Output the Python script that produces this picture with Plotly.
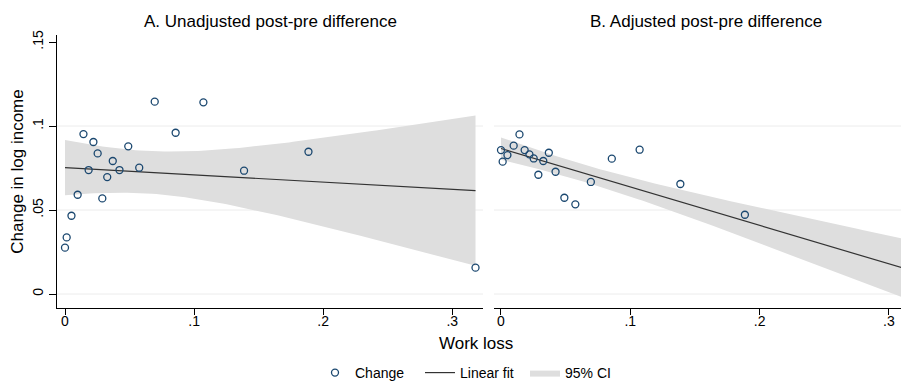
import numpy as np
import plotly.graph_objects as go

# ---- data ----
work_loss = [0.0, 0.0013, 0.005, 0.0098, 0.0143, 0.0183, 0.022, 0.0253, 0.0289, 0.0327,
             0.037, 0.0422, 0.049, 0.0575, 0.0695, 0.0857, 0.1072, 0.1387, 0.1886, 0.318]
change_unadjusted = [0.0276, 0.0337, 0.0466, 0.0591, 0.0952, 0.0738, 0.0905, 0.0837, 0.0569, 0.0696,
                     0.0792, 0.0738, 0.0879, 0.0752, 0.1145, 0.0960, 0.1141, 0.0734, 0.0847, 0.0157]
change_adjusted = [0.0857, 0.0788, 0.0827, 0.0883, 0.0950, 0.0857, 0.0831, 0.0807, 0.0710, 0.0792,
                   0.0841, 0.0728, 0.0573, 0.0534, 0.0667, 0.0806, 0.0859, 0.0655, 0.0472, 0.0024]

x_tick_vals = [0, 0.1, 0.2, 0.3]
x_tick_text = ["0", ".1", ".2", ".3"]
y_tick_vals = [0, 0.05, 0.1, 0.15]
y_tick_text = ["0", ".05", ".1", ".15"]
grid_y = [0, 0.05, 0.1]
panel_titles = ["A. Unadjusted post-pre difference", "B. Adjusted post-pre difference"]
T_CRIT = 2.101  # t(0.975, df = n-2 = 18)

FONT = "Liberation Sans, Arial, sans-serif"
MARKER_COLOR = "#1a476f"
LINE_COLOR = "#333333"
CI_COLOR = "#dedede"
GRID_COLOR = "#ececec"


def linfit_ci(x, y, npts=100):
    x = np.asarray(x, dtype=float)
    y = np.asarray(y, dtype=float)
    n = len(x)
    b, a = np.polyfit(x, y, 1)
    resid = y - (a + b * x)
    s = np.sqrt((resid ** 2).sum() / (n - 2))
    xbar = x.mean()
    sxx = ((x - xbar) ** 2).sum()
    grid = np.linspace(x.min(), x.max(), npts)
    fit = a + b * grid
    se = s * np.sqrt(1.0 / n + (grid - xbar) ** 2 / sxx)
    return grid, fit, fit - T_CRIT * se, fit + T_CRIT * se


fig = go.Figure()

for i, ys in enumerate([change_unadjusted, change_adjusted]):
    xa = "x" if i == 0 else "x2"
    ya = "y" if i == 0 else "y2"
    show = i == 0
    g, f, lo, hi = linfit_ci(work_loss, ys)
    fig.add_trace(go.Scatter(
        x=np.concatenate([g, g[::-1]]), y=np.concatenate([hi, lo[::-1]]),
        fill="toself", fillcolor=CI_COLOR, line=dict(width=0, color=CI_COLOR),
        mode="lines", name="95% CI", legendrank=3, showlegend=show,
        hoverinfo="skip", xaxis=xa, yaxis=ya))
    fig.add_trace(go.Scatter(
        x=g, y=f, mode="lines", line=dict(color=LINE_COLOR, width=1.2),
        name="Linear fit", legendrank=2, showlegend=show, xaxis=xa, yaxis=ya))
    fig.add_trace(go.Scatter(
        x=work_loss, y=ys, mode="markers",
        marker=dict(symbol="circle-open", size=7, color=MARKER_COLOR,
                    line=dict(width=1.3, color=MARKER_COLOR)),
        name="Change", legendrank=1, showlegend=show, xaxis=xa, yaxis=ya))

# page has an 8px body margin: the figure is drawn 8px right/down of the window corner
OFF = 8
W, H = 909 - OFF, 381 - OFF


def px_x(p):
    return (p - OFF) / W


def px_y(p):
    return (H - (p - OFF)) / H


x1_dom = [px_x(57), px_x(483)]
x2_dom = [px_x(494), 1.0]
x2_dom_full = [px_x(494), px_x(918)]
y_dom = [px_y(308), px_y(35)]
y_range = [-0.00833, 0.1542]

axis_common = dict(showline=True, linecolor="black", linewidth=1, ticks="outside",
                   tickcolor="black", tickwidth=1, showgrid=False, zeroline=False,
                   automargin=False,
                   tickfont=dict(size=14, color="black", family=FONT))

fig.update_layout(
    width=W, height=H,
    margin=dict(l=0, r=0, t=0, b=0, autoexpand=False),
    paper_bgcolor="white", plot_bgcolor="white",
    font=dict(family=FONT, color="black"),
    xaxis=dict(domain=x1_dom, range=[-0.0062, 0.3238], tickvals=x_tick_vals,
               ticktext=x_tick_text, ticklen=6, ticklabelstandoff=-6, anchor="y",
               **axis_common),
    xaxis2=dict(domain=x2_dom, range=[-0.0054, 0.3155], tickvals=x_tick_vals,
                ticktext=x_tick_text, ticklen=6, ticklabelstandoff=-6, anchor="y2",
                **axis_common),
    yaxis=dict(domain=y_dom, range=y_range, tickvals=y_tick_vals, ticktext=y_tick_text,
               tickangle=-90, ticklen=7, anchor="x",
               title=dict(text="Change in log income", font=dict(size=17), standoff=6),
               **axis_common),
    yaxis2=dict(domain=y_dom, range=y_range, visible=False, anchor="x2"),
    legend=dict(orientation="h", x=px_x(315), xanchor="left", xref="container",
                y=px_y(373), yanchor="middle", yref="container",
                entrywidth=60, entrywidthmode="pixels",
                font=dict(size=14), bgcolor="rgba(0,0,0,0)", traceorder="normal"),
    showlegend=True,
)

shapes = []
for xd, yref in [("x domain", "y"), ("x2 domain", "y2")]:
    for gy in grid_y:
        shapes.append(dict(type="line", xref=xd, yref=yref, x0=0, x1=1, y0=gy, y1=gy,
                           line=dict(color=GRID_COLOR, width=1), layer="below"))
fig.update_layout(shapes=shapes)

annotations = []
for dom, t in zip([x1_dom, x2_dom_full], panel_titles):
    annotations.append(dict(text=t, x=(dom[0] + dom[1]) / 2, y=px_y(21),
                            xref="paper", yref="paper", showarrow=False,
                            xanchor="center", yanchor="middle", font=dict(size=17)))
annotations.append(dict(text="Work loss", x=px_x(476), y=px_y(343), xref="paper",
                        yref="paper", showarrow=False, xanchor="center", yanchor="middle",
                        font=dict(size=17)))
fig.update_layout(annotations=annotations)

fig.write_html("out.html")
